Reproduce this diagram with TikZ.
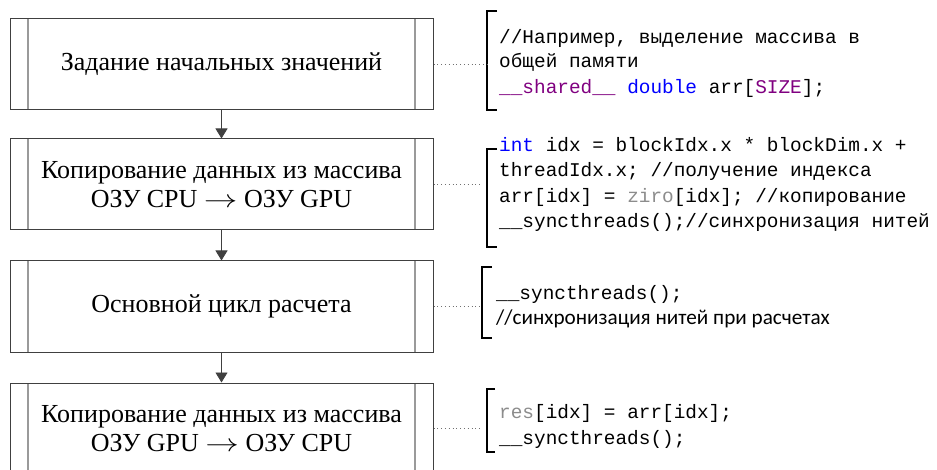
\documentclass[tikz,border=0pt]{standalone}
\usepackage{fontspec}
\setmainfont{Liberation Serif}
\newfontfamily\codefont{Liberation Mono}
\newfontfamily\cmtfont{Carlito}
\usetikzlibrary{arrows.meta}
\definecolor{boxc}{HTML}{404040}
\definecolor{innerc}{HTML}{9A9A9A}
\definecolor{kwblue}{HTML}{0000FF}
\definecolor{kwpurple}{HTML}{800080}
\definecolor{kwgray}{HTML}{8C8C8C}
\definecolor{dotc}{HTML}{707070}
\newcommand{\longarr}{\scalebox{1.35}[1]{$\rightarrow$}}
\tikzset{
  procbox/.style={draw=boxc, line width=1pt, minimum width=423pt, minimum height=91pt,
    inner sep=0pt, align=center, font=\fontsize{26}{29.5}\selectfont,
    path picture={
      \draw[innerc, line width=1.2pt]
        ([xshift=18pt]path picture bounding box.north west) -- ([xshift=18pt]path picture bounding box.south west)
        ([xshift=-18pt]path picture bounding box.north east) -- ([xshift=-18pt]path picture bounding box.south east);
    }},
  flowarrow/.style={draw=boxc, line width=0.9pt, -{Triangle[length=10pt,width=12pt]}},
  dotline/.style={draw=dotc, line width=0.8pt, dash pattern=on 0.8pt off 3pt},
  brack/.style={draw=black, line width=1.1pt},
  codeline/.style={anchor=base west, inner sep=0pt, font=\codefont\fontsize{19.4}{25}\selectfont},
  cmtline/.style={anchor=base west, inner sep=0pt, font=\cmtfont\fontsize{21.2}{25}\selectfont},
}
\begin{document}
\begin{tikzpicture}[x=1pt, y=-1pt]
\useasboundingbox (0,0) rectangle (937,470);
\begin{scope}
\clip (0,0) rectangle (937,470);
% boxes
\node[procbox] (b1) at (221.5,64.5) {Задание начальных значений};
\node[procbox] (b2) at (221.5,184.5) {Копирование данных из массива\\ОЗУ CPU \longarr{} ОЗУ GPU};
\node[procbox] (b3) at (221.5,306.5) {Основной цикл расчета};
\node[procbox] (b4) at (221.5,428.5) {Копирование данных из массива\\ОЗУ GPU \longarr{} ОЗУ CPU};
\end{scope}
% arrows
\draw[flowarrow] (b1.south) -- (b2.north);
\draw[flowarrow] (b2.south) -- (b3.north);
\draw[flowarrow] (b3.south) -- (b4.north);
% brackets
\coordinate (k1) at (487,64.5);
\draw[brack] (497,11) -- (487,11) -- (487,110) -- (497,110);
\coordinate (k2) at (482,184.5);
\draw[brack] (497,149) -- (487,149) -- (487,247) -- (497,247);
\coordinate (k3) at (482,306.5);
\draw[brack] (492,267) -- (482,267) -- (482,338) -- (492,338);
\coordinate (k4) at (482,428.5);
\draw[brack] (495,389) -- (487,389) -- (487,452) -- (495,452);
% dotted connectors
\draw[dotline] (b1.east) -- (k1);
\draw[dotline] (b2.east) -- (k2);
\draw[dotline] (b3.east) -- (k3);
\draw[dotline] (b4.east |- k4) -- (k4);
% code block 1
\node[codeline] (c1a) at (499,44) {//Например, выделение массива в};
\node[codeline] (c1b) at (499,68) {общей памяти};
\node[codeline] (c1c) at (499,94) {\textcolor{kwpurple}{\_\_shared\_\_} \textcolor{kwblue}{double} arr[\textcolor{kwpurple}{SIZE}];};
% code block 2
\node[codeline] (c2a) at (499,152) {\textcolor{kwblue}{int} idx = blockIdx.x * blockDim.x +};
\node[codeline] (c2b) at (499,177) {threadIdx.x; //получение индекса};
\node[codeline] (c2c) at (499,203) {arr[idx] = \textcolor{kwgray}{ziro}[idx]; //копирование};
\node[codeline] (c2d) at (499,228) {\_\_syncthreads();//синхронизация нитей};
% code block 3
\node[codeline] (c3a) at (496,300) {\_\_syncthreads();};
\node[cmtline] (c3b) at (496,325) {//синхронизация нитей при расчетах};
% code block 4
\node[codeline] (c4a) at (499,418) {\textcolor{kwgray}{res}[idx] = arr[idx];};
\node[codeline] (c4b) at (499,444) {\_\_syncthreads();};
\end{tikzpicture}
\end{document}
